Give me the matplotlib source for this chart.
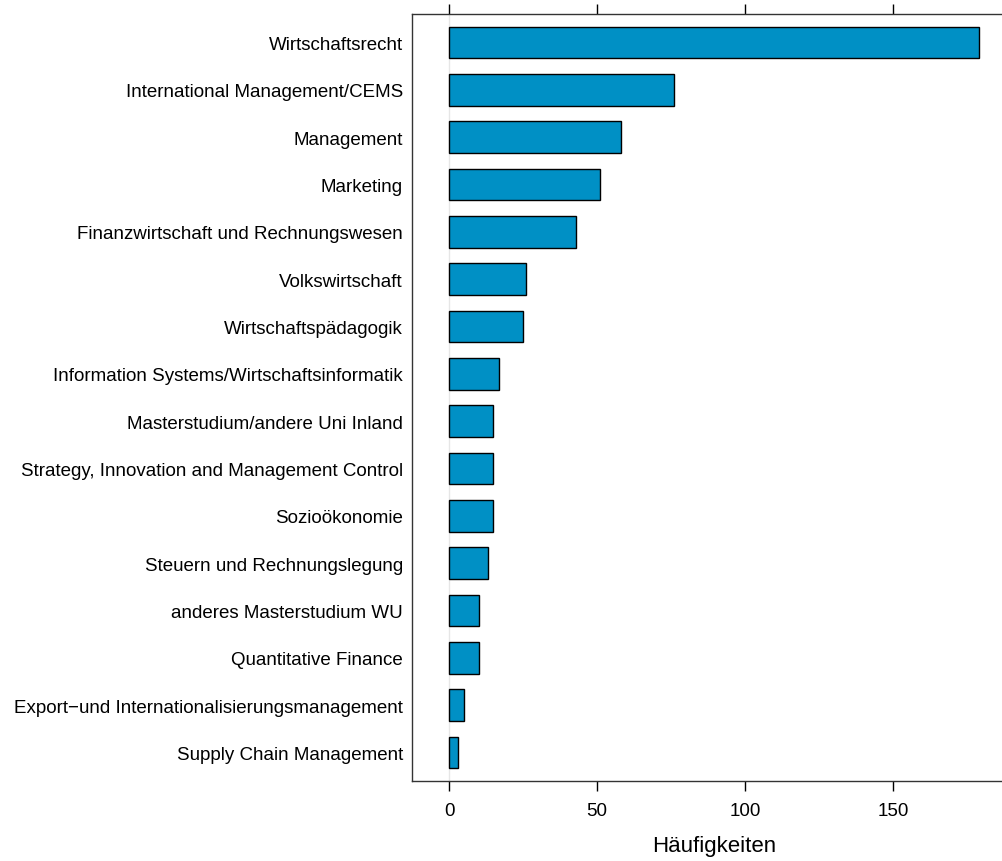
import matplotlib
matplotlib.use("Agg")
import matplotlib.pyplot as plt

plt.rcParams['font.family'] = ['Liberation Sans', 'DejaVu Sans']

studien = ["Wirtschaftsrecht", "International Management/CEMS", "Management",
           "Marketing", "Finanzwirtschaft und Rechnungswesen", "Volkswirtschaft",
           "Wirtschaftspädagogik", "Information Systems/Wirtschaftsinformatik",
           "Masterstudium/andere Uni Inland", "Strategy, Innovation and Management Control",
           "Sozioökonomie", "Steuern und Rechnungslegung", "anderes Masterstudium WU",
           "Quantitative Finance", "Export\u2212und Internationalisierungsmanagement",
           "Supply Chain Management"]
haeufigkeiten = [179, 76, 58, 51, 43, 26, 25, 17, 15, 15, 15, 13, 10, 10, 5, 3]
x_ticks = [0, 50, 100, 150]


def main():
    fig = plt.figure(figsize=(10.03, 8.62), dpi=100)
    # axes reicht rechts leicht über den Bildrand hinaus (wie im Original)
    ax = fig.add_axes([412 / 1003, 80 / 862, 604 / 1003, 767 / 862])

    n = len(studien)
    pos = list(range(n, 0, -1))
    ax.axvline(0, color="#e6e6e6", lw=1, zorder=0)
    ax.barh(pos, haeufigkeiten, height=0.667, color="#0090c5",
            edgecolor="black", linewidth=1.0, zorder=2)

    xmax = max(haeufigkeiten)
    ax.set_xlim(-0.07 * xmax, 1.07 * xmax)
    ax.set_ylim(0.4, n + 0.6)
    ax.set_yticks(pos)
    ax.set_yticklabels(studien, fontsize=13.5)
    ax.set_xticks(x_ticks)
    ax.set_xticklabels([str(t) for t in x_ticks], fontsize=13.5)
    ax.tick_params(axis="y", length=0, pad=6.5)
    ax.tick_params(axis="x", top=True, direction="out", length=7, width=1,
                   pad=8, labeltop=False)
    for s in ax.spines.values():
        s.set_linewidth(1)
        s.set_color("#333333")
    ax.spines["right"].set_visible(False)
    ax.set_xlabel("Häufigkeiten", fontsize=16, labelpad=12)

    fig.savefig("out.png", dpi=100)


if __name__ == '__main__':
    main()
